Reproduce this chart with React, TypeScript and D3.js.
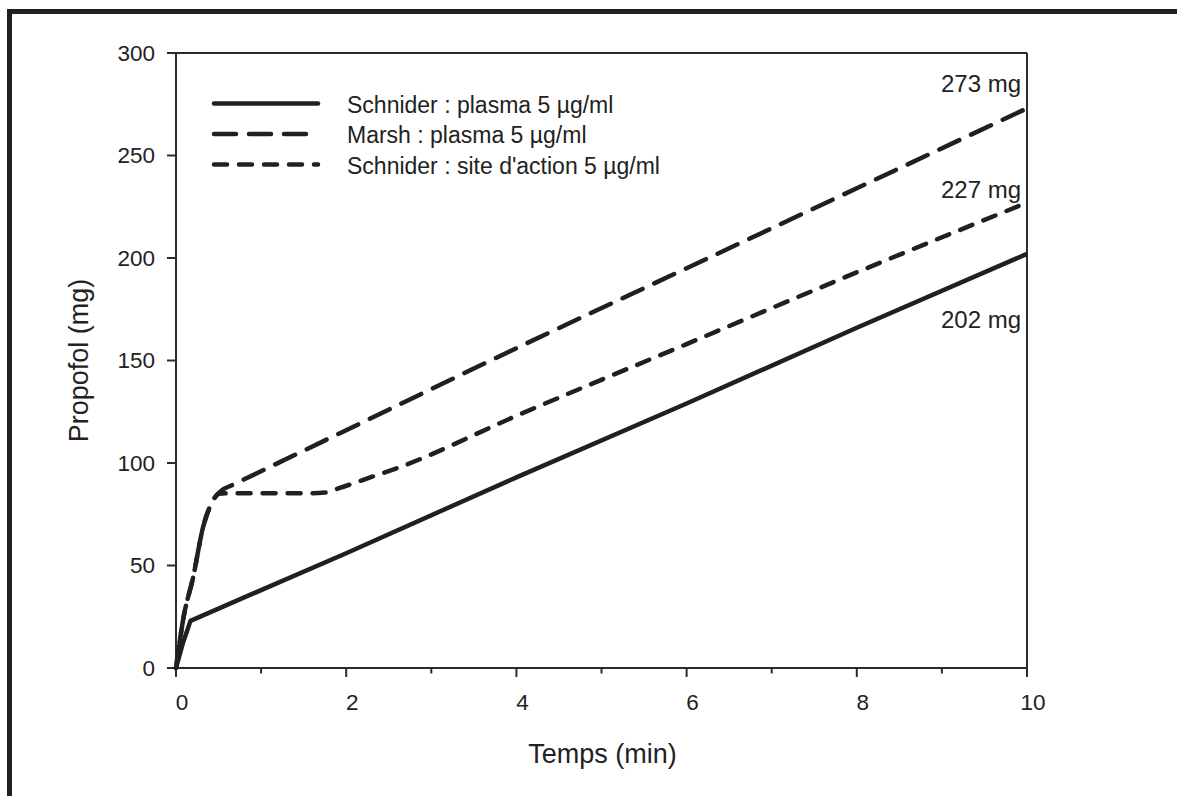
import React from 'react';
import * as d3 from 'd3';

const W = 1177;
const H = 796;

const xTicksMajor = [0, 2, 4, 6, 8, 10];
const xTicksMinor = [1, 3, 5, 7, 9];
const yTicks = [0, 50, 100, 150, 200, 250, 300];

const timeSchniderPlasma = [0, 0.08, 0.17, 1, 2, 4, 6, 8, 10];
const doseSchniderPlasma = [0, 12, 23, 38, 56, 93, 129, 166, 202];

const timeMarsh = [0, 0.09, 0.2, 0.32, 0.44, 0.55, 0.65, 2, 4, 6, 8, 10];
const doseMarsh = [0, 25, 44, 69, 82, 87, 89, 116, 156, 195, 234, 273];

const timeSchniderSite = [0, 0.09, 0.2, 0.32, 0.44, 0.5, 0.6, 1.0, 1.5, 1.75, 1.9, 2.25, 2.63, 4, 6, 8, 10];
const doseSchniderSite = [0, 25, 44, 69, 82, 85, 85.2, 85.2, 85.2, 85.6, 87.5, 92.5, 98, 123, 158, 193, 227];

const seriesNames = [
  'Schnider : plasma 5 µg/ml',
  'Marsh : plasma 5 µg/ml',
  "Schnider : site d'action 5 µg/ml",
];
const endLabels = ['202 mg', '273 mg', '227 mg'];

const INK = '#231f20';
const FONT = "'Liberation Sans', Arial, Helvetica, sans-serif";

export default function App() {
  const x = d3.scaleLinear().domain([0, 10]).range([176, 1027]);
  const y = d3.scaleLinear().domain([0, 300]).range([668, 53]);

  const zip = (t: number[], v: number[]) => t.map((tt, i) => [tt, v[i]] as [number, number]);

  const mkLine = (curve: d3.CurveFactory) =>
    d3
      .line<[number, number]>()
      .x((d) => x(d[0]))
      .y((d) => y(d[1]))
      .curve(curve);

  const series = [
    { data: zip(timeSchniderPlasma, doseSchniderPlasma), dash: undefined as string | undefined, curve: d3.curveLinear },
    { data: zip(timeMarsh, doseMarsh), dash: '22 13', curve: d3.curveMonotoneX },
    { data: zip(timeSchniderSite, doseSchniderSite), dash: '13 12', curve: d3.curveMonotoneX },
  ];

  const x0 = x(0), x1 = x(10), y0 = y(0), y1 = y(300);

  const legendRowsY = [103.5, 134, 164.5];
  const endLabelY = [328, 92, 198];

  return (
    <svg
      width={W}
      height={H}
      style={{ position: 'absolute', left: 0, top: 0, background: '#fff' }}
      fontFamily={FONT}
    >
      <rect x={0} y={0} width={W} height={H} fill="#fff" />
      {/* outer frame */}
      <rect x={7} y={9} width={W - 7} height={5} fill={INK} />
      <rect x={7} y={9} width={5} height={H - 9} fill={INK} />

      {/* plot box */}
      <g stroke="#2b2b2b" strokeWidth={2} fill="none">
        <line x1={x0} y1={y1} x2={x1} y2={y1} />
        <line x1={x1} y1={y1} x2={x1} y2={y0 + 9} />
        <line x1={x0} y1={y1} x2={x0} y2={y0 + 9} />
        <line x1={x0 - 9} y1={y0} x2={x1} y2={y0} />
        {yTicks.map((t) => (
          <line key={'yt' + t} x1={x0 - 9} x2={x0} y1={y(t)} y2={y(t)} />
        ))}
        {xTicksMajor.map((t) => (
          <line key={'xt' + t} x1={x(t)} x2={x(t)} y1={y0} y2={y0 + 9} />
        ))}
        {xTicksMinor.map((t) => (
          <line key={'xm' + t} x1={x(t)} x2={x(t)} y1={y0} y2={y0 + 5.5} />
        ))}
      </g>

      {/* tick labels */}
      <g fill="#222" fontSize={22.5}>
        {yTicks.map((t) => (
          <text key={'yl' + t} x={155} y={y(t)} dy="0.35em" textAnchor="end">
            {t}
          </text>
        ))}
        {xTicksMajor.map((t) => (
          <text key={'xl' + t} x={x(t) + 6} y={710} textAnchor="middle">
            {t}
          </text>
        ))}
      </g>

      {/* axis titles */}
      <text x={(x0 + x1) / 2 + 1} y={763} textAnchor="middle" fontSize={27} fill="#222">
        Temps (min)
      </text>
      <text
        transform={`translate(88, ${(y0 + y1) / 2}) rotate(-90)`}
        textAnchor="middle"
        fontSize={27}
        fill="#222"
      >
        Propofol (mg)
      </text>

      {/* series */}
      {series.map((s, i) => (
        <path
          key={'s' + i}
          d={mkLine(s.curve)(s.data) || ''}
          fill="none"
          stroke={INK}
          strokeWidth={4.5}
          strokeLinecap={s.dash ? 'round' : 'butt'}
          strokeLinejoin="round"
          strokeDasharray={s.dash}
        />
      ))}

      {/* end labels */}
      <g fontSize={24} fill="#222" textAnchor="end">
        {endLabels.map((l, i) => (
          <text key={'el' + i} x={1021} y={endLabelY[i]}>
            {l}
          </text>
        ))}
      </g>

      {/* legend */}
      <g>
        {series.map((s, i) => (
          <g key={'lg' + i}>
            <line
              x1={214}
              x2={318}
              y1={legendRowsY[i]}
              y2={legendRowsY[i]}
              stroke={INK}
              strokeWidth={4.5}
              strokeLinecap="round"
              strokeDasharray={s.dash}
            />
            <text x={347} y={legendRowsY[i] + 9} fontSize={23} fill="#222">
              {seriesNames[i]}
            </text>
          </g>
        ))}
      </g>
    </svg>
  );
}
